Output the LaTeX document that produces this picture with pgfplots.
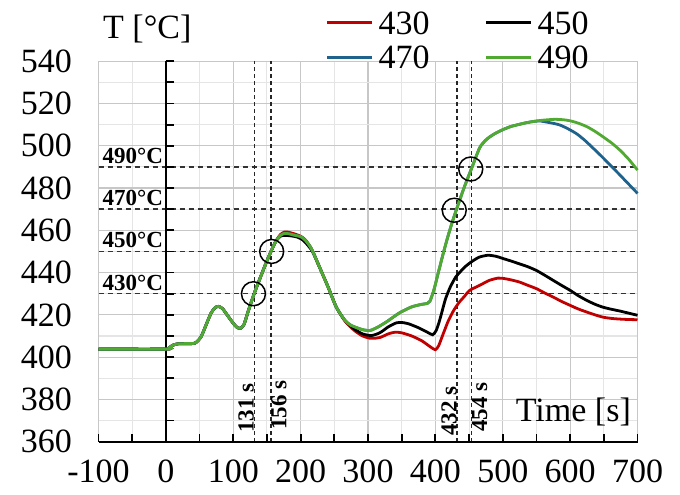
\documentclass[border=0pt]{standalone}
\usepackage{fontspec}
\setmainfont{Liberation Serif}
\usepackage{pgfplots}
\pgfplotsset{compat=1.18}
\definecolor{cred}{RGB}{192,0,0}
\definecolor{cblue}{RGB}{31,99,140}
\definecolor{cgreen}{RGB}{80,170,50}
\begin{document}
\begin{tikzpicture}
\useasboundingbox (0,0) rectangle (680bp,495bp);
\begin{axis}[
  at={(98.5bp,53.3bp)}, anchor=south west,
  scale only axis, width=539bp, height=380.5bp,
  xmin=-100, xmax=700, ymin=360, ymax=540,
  clip=false,
  xtick={-100,0,100,200,300,400,500,600,700},
  xticklabels={-100,0,100,200,300,400,500,600,700},
  ytick={360,380,400,420,440,460,480,500,520,540},
  yticklabels={360,380,400,420,440,460,480,500,520,540},
  minor xtick={-50,50,150,250,350,450,550,650},
  minor ytick={370,390,410,430,450,470,490,510,530},
  grid=both,
  major grid style={draw=black!22, line width=1.1bp},
  minor grid style={draw=black!10, line width=1.1bp},
  axis line style={draw=black!22, line width=1.1bp},
  tick style={draw=none},
  every tick label/.append style={font=\fontsize{34bp}{38bp}\selectfont},
  xticklabel style={yshift=-15bp},
  yticklabel style={xshift=-23bp},
  legend columns=2,
  legend style={at={(0.4215,1.1314)}, anchor=north west, draw=none, fill=none,
    inner sep=0pt, outer sep=0pt, row sep=11.6bp,
    font=\fontsize{34bp}{38bp}\selectfont,
    nodes={inner sep=0pt, text height=23bp, text depth=0pt},
    /tikz/every odd column/.append style={column sep=5bp},
    /tikz/every even column/.append style={column sep=55bp}},
  legend image code/.code={\draw[#1, line width=3bp] (0bp,0bp) -- (45bp,0bp);},
]
% reference dashed lines
\addplot[forget plot, black!80, line width=1.5bp, dash pattern=on 5bp off 4bp] coordinates {(-100,430) (700,430)};
\addplot[forget plot, black!80, line width=1.5bp, dash pattern=on 5bp off 4bp] coordinates {(-100,450) (700,450)};
\addplot[forget plot, black!80, line width=1.5bp, dash pattern=on 5bp off 4bp] coordinates {(-100,470) (700,470)};
\addplot[forget plot, black!80, line width=1.5bp, dash pattern=on 5bp off 4bp] coordinates {(-100,490) (700,490)};
\addplot[forget plot, black!85, line width=1.2bp, dash pattern=on 4bp off 3bp] coordinates {(131,360) (131,540)};
\addplot[forget plot, black!85, line width=1.2bp, dash pattern=on 4bp off 3bp] coordinates {(156,360) (156,540)};
\addplot[forget plot, black!85, line width=1.2bp, dash pattern=on 4bp off 3bp] coordinates {(432,360) (432,540)};
\addplot[forget plot, black!85, line width=1.2bp, dash pattern=on 4bp off 3bp] coordinates {(454,360) (454,540)};
% axes at x=0 and y=360
\addplot[forget plot, black, line width=2.6bp] coordinates {(0,360) (0,540)};
\addplot[forget plot, black, line width=2bp] coordinates {(-100,360) (700,360)};
\pgfplotsinvokeforeach{360,370,380,390,400,410,420,430,440,450,460,470,480,490,500,510,520,530,540}{
  \draw[black, line width=1.8bp] (axis cs:0,#1) -- ([xshift=8bp]axis cs:0,#1);
}
\pgfplotsinvokeforeach{-100,-50,0,50,100,150,200,250,300,350,400,450,500,550,600,650,700}{
  \draw[black, line width=1.8bp] (axis cs:#1,360) -- ([yshift=8bp]axis cs:#1,360);
}
% 430
\addplot[cred, line width=2.8bp, smooth, tension=0.4] coordinates {
(-100,403.8) (0,403.8) (4,404.2) (10,405.6) (18,406.3) (30,406.4) (43,406.6) (52,409.5) (60,415.5) (67,420.8) (73,423.4) (78,424) (84,423) (92,419.5) (100,416) (106,414) (111,413.7) (116,415.5) (122,421.5) (131,430) (140,437.5) (148,444) (156,450) (163,454.7)
(170,458) (176,459.2) (182,459.1) (192,458.2) (200,457.2) (207,455.5) (216,451.3) (228,442.6) (241,433) (253,423.6) (266,417) (274,414.3) (281,412.3) (292,410) (302,409) (308,408.9) (318,409.3) (330,411) (340,411.8) (350,411.5) (365,410) (380,407.7) (392,405) (400,403.5) (405,405.5) (411,410.5) (419,417) (427,422) (435,425.8) (443,428.7) (451,431.6) (466,434) (480,436.3) (493,437.4) (500,437.3) (513,436.5) (525,435.5) (537,434) (550,432.4) (562,430.4) (575,428.4) (587,426.4) (600,424.5) (612,422.8) (625,421.3) (637,420) (649,418.9) (662,418.3) (674,418) (687,417.8) (700,417.7)};
\addlegendentry{430}
% 450
\addplot[black, line width=2.8bp, smooth, tension=0.4] coordinates {
(-100,403.8) (0,403.8) (4,404.2) (10,405.6) (18,406.3) (30,406.4) (43,406.6) (52,409.5) (60,415.5) (67,420.8) (73,423.4) (78,424) (84,423) (92,419.5) (100,416) (106,414) (111,413.7) (116,415.5) (122,421.5) (131,430) (140,437.5) (148,444) (156,450) (163,454.7)
(170,457.2) (176,457.6) (185,457.4) (195,456.8) (203,455.5) (210,453.2) (218,449.8) (228,442.6) (241,433) (253,423.6) (266,417.2) (274,414.8) (281,413) (292,411) (305,410.2) (318,411.6) (330,414.3) (342,416.2) (350,416.4) (360,415.8) (375,413.9) (388,411.8) (396,410.6) (401,412.5) (405,416) (409,420.5) (415,427.5) (422,433.1) (430,437.8) (437,440.4) (445,443) (454,445.2) (465,447.3) (478,448.2) (490,447.7) (501,446.6) (513,445.4) (525,444.1) (537,442.8) (550,441) (562,438.8) (575,436.3) (587,434) (600,431.6) (612,429.1) (625,426.8) (637,425) (649,423.6) (662,422.6) (674,421.8) (687,420.8) (700,419.8)};
\addlegendentry{450}
% 470
\addplot[cblue, line width=2.8bp, smooth, tension=0.4] coordinates {
(-100,403.8) (0,403.8) (4,404.2) (10,405.6) (18,406.3) (30,406.4) (43,406.6) (52,409.5) (60,415.5) (67,420.8) (73,423.4) (78,424) (84,423) (92,419.5) (100,416) (106,414) (111,413.7) (116,415.5) (122,421.5) (131,430) (140,437.5) (148,444) (156,450) (163,454.7)
(170,457.6) (176,458.5) (182,458.4) (192,457.6) (200,457) (207,455.3) (216,451.3) (228,442.6) (241,433) (253,423.6) (266,417.3) (275,415) (281,414.2) (292,413) (303,412.6) (315,414.3) (328,416.8) (347,421) (365,423.8) (380,425) (388,425.4) (392,426.5) (398,432) (404,439.5) (410,447) (417,455.3) (424,462.8) (432,470.5) (443,480.5) (454,489.5) (466,499.2) (476,503) (486,505.3) (498,507.3) (511,509) (523,510) (535,510.9) (548,511.6)
(556,511.7) (565,511.2) (575,510.6) (585,509.8) (597,508) (610,505.6) (622,502.5) (634,498.9) (647,494.9) (659,491) (672,486.8) (684,482.8) (700,477.5)};
\addlegendentry{470}
% 490
\addplot[cgreen, line width=2.8bp, smooth, tension=0.4] coordinates {
(-100,403.8) (0,403.8) (4,404.2) (10,405.6) (18,406.3) (30,406.4) (43,406.6) (52,409.5) (60,415.5) (67,420.8) (73,423.4) (78,424) (84,423) (92,419.5) (100,416) (106,414) (111,413.7) (116,415.5) (122,421.5) (131,430) (140,437.5) (148,444) (156,450) (163,454.7)
(170,457.6) (176,458.5) (182,458.4) (192,457.6) (200,457) (207,455.3) (216,451.3) (228,442.6) (241,433) (253,423.6) (266,417.3) (275,415) (281,414.2) (292,413) (303,412.6) (315,414.3) (328,416.8) (347,421) (365,423.8) (380,425) (388,425.4) (392,426.5) (398,432) (404,439.5) (410,447) (417,455.3) (424,462.8) (432,470.5) (443,480.5) (454,489.5) (466,499.2) (476,503) (486,505.3) (498,507.3) (511,509) (523,510) (535,510.9) (548,511.6)
(560,512.1) (577,512.5) (590,512.3) (600,511.8) (612,510.7) (625,509) (637,506.8) (649,504.2) (662,501.2) (674,497.9) (687,493.6) (700,488.5)};
\addlegendentry{490}
% circles
\addplot[forget plot, only marks, mark=o, mark size=12bp, mark options={draw=black, line width=1.5bp}] coordinates {(130,430) (157,450) (428,469.5) (452.5,489)};
% labels
\node[anchor=base east, inner sep=0pt, yshift=3.5bp, font=\bfseries\fontsize{23bp}{26bp}\selectfont] at (axis cs:-4,490) {490°C};
\node[anchor=base east, inner sep=0pt, yshift=3.5bp, font=\bfseries\fontsize{23bp}{26bp}\selectfont] at (axis cs:-4,470) {470°C};
\node[anchor=base east, inner sep=0pt, yshift=3.5bp, font=\bfseries\fontsize{23bp}{26bp}\selectfont] at (axis cs:-4,450) {450°C};
\node[anchor=base east, inner sep=0pt, yshift=3.5bp, font=\bfseries\fontsize{23bp}{26bp}\selectfont] at (axis cs:-4,430) {430°C};
\node[rotate=90, anchor=south west, inner sep=0pt, xshift=-1bp, font=\bfseries\fontsize{23bp}{26bp}\selectfont] at (axis cs:131,364.7) {131 s};
\node[rotate=90, anchor=north west, inner sep=0pt, xshift=2bp, font=\bfseries\fontsize{23bp}{26bp}\selectfont] at (axis cs:156,364.7) {156 s};
\node[rotate=90, anchor=south west, inner sep=0pt, xshift=-4bp, font=\bfseries\fontsize{23bp}{26bp}\selectfont] at (axis cs:432,364.7) {432 s};
\node[rotate=90, anchor=north west, inner sep=0pt, xshift=0bp, font=\bfseries\fontsize{23bp}{26bp}\selectfont] at (axis cs:454,364.7) {454 s};
\node[anchor=base west, inner sep=0pt, font=\fontsize{34bp}{38bp}\selectfont] at (rel axis cs:0.0083,1.0602) {T [°C]};
\node[anchor=base east, inner sep=0pt, font=\fontsize{34bp}{38bp}\selectfont] at (rel axis cs:0.988,0.053) {Time [s]};
\end{axis}
\end{tikzpicture}
\end{document}
